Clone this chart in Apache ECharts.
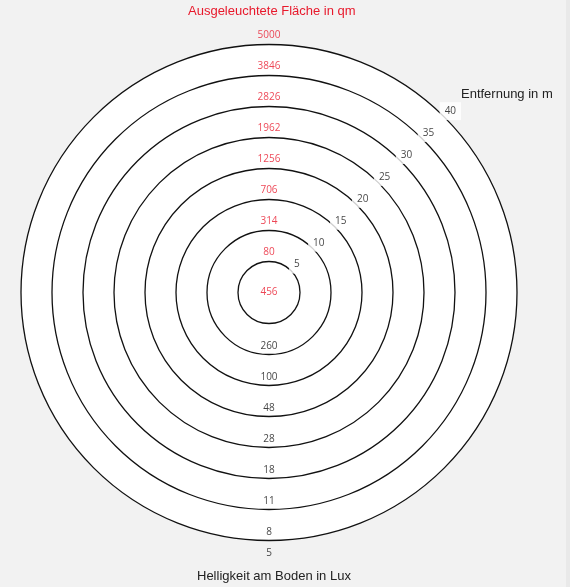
<!DOCTYPE html>
<html>
<head>
<meta charset="utf-8">
<script src="https://cdn.jsdelivr.net/npm/echarts@6/dist/echarts.min.js"></script>
<style>
  html, body { margin: 0; padding: 0; background: #f2f2f2; }
  #chart { width: 570px; height: 587px; }
</style>
</head>
<body>
<div id="chart"></div>
<script>
// Entfernung in m (one circle per value)
var distances = [5, 10, 15, 20, 25, 30, 35, 40];
// ausgeleuchtete Flaeche in qm, one per circle
var areas = [80, 314, 706, 1256, 1962, 2826, 3846, 5000];
// Helligkeit am Boden in Lux: centre, then per circle, then outside
var lux = [456, 260, 100, 48, 28, 18, 11, 8, 5];

var red = '#e8192c';
var dark = '#111';
var numFont = 'Open Sans';

var chartDom = document.getElementById('chart');
var myChart = echarts.init(chartDom);

var distanceData = distances.map(function (d) {
    return { value: [d, 45], name: String(d) };
});
var areaData = distances.map(function (d, i) {
    return { value: [d, 90], name: String(areas[i]) };
});
var luxData = [];
for (var i = 1; i < lux.length - 1; i++) {
    luxData.push({ value: [distances[i], 270], name: String(lux[i]) });
}

var option = {
    backgroundColor: '#f2f2f2',
    title: [
        {
            text: 'Ausgeleuchtete Fläche in qm',
            left: 188,
            top: 5,
            padding: 0,
            textStyle: { color: red, fontSize: 13, fontWeight: 'normal', fontFamily: 'Liberation Sans' }
        },
        {
            text: 'Entfernung in m',
            left: 461,
            top: 88,
            padding: 0,
            textStyle: { color: '#222', fontSize: 13, fontWeight: 'normal', fontFamily: 'Liberation Sans' }
        },
        {
            text: 'Helligkeit am Boden in Lux',
            left: 197,
            top: 570,
            padding: 0,
            textStyle: { color: '#222', fontSize: 13, fontWeight: 'normal', fontFamily: 'Liberation Sans' }
        }
    ],
    graphic: [
        { type: 'rect', right: 0, top: 0, shape: { width: 4, height: 587 }, style: { fill: '#e9e9e9' }, silent: true }
    ],
    polar: {
        center: [269, 292.5],
        radius: 248
    },
    angleAxis: {
        type: 'value',
        min: 0,
        max: 360,
        startAngle: 0,
        clockwise: false,
        z: 0,
        axisLine: { show: false },
        axisTick: { show: false },
        axisLabel: { show: false },
        splitLine: { show: false },
        splitArea: { show: true, areaStyle: { color: ['#ffffff'] } }
    },
    radiusAxis: {
        type: 'value',
        min: 0,
        max: 40,
        interval: 5,
        z: 1,
        axisLine: { show: false },
        axisTick: { show: false },
        axisLabel: { show: false },
        splitLine: { show: true, lineStyle: { color: dark, width: 1.3 } }
    },
    series: [
        {
            name: 'Entfernung',
            type: 'scatter',
            coordinateSystem: 'polar',
            symbolSize: 0,
            silent: true,
            z: 3,
            data: distanceData,
            label: {
                show: true,
                position: 'inside',
                offset: [6, -6],
                formatter: '{b}',
                color: dark,
                fontSize: 10,
                fontFamily: numFont,
                backgroundColor: '#fff',
                padding: [4, 5]
            }
        },
        {
            name: 'Flaeche',
            type: 'scatter',
            coordinateSystem: 'polar',
            symbolSize: 0,
            silent: true,
            z: 3,
            data: areaData,
            label: {
                show: true,
                position: 'top',
                distance: 4,
                formatter: '{b}',
                color: red,
                fontSize: 10,
                fontFamily: numFont
            }
        },
        {
            name: 'Lux',
            type: 'scatter',
            coordinateSystem: 'polar',
            symbolSize: 0,
            silent: true,
            z: 3,
            data: luxData,
            label: {
                show: true,
                position: 'top',
                distance: 3,
                formatter: '{b}',
                color: dark,
                fontSize: 10,
                fontFamily: numFont
            }
        },
        {
            name: 'LuxRand',
            type: 'scatter',
            coordinateSystem: 'polar',
            symbolSize: 0,
            silent: true,
            z: 3,
            data: [
                { value: [0, 0], name: String(lux[0]), label: { position: 'inside', color: red } },
                { value: [distances[distances.length - 1], 270], name: String(lux[lux.length - 1]), label: { position: 'bottom', distance: 8 } }
            ],
            label: {
                show: true,
                formatter: '{b}',
                color: dark,
                fontSize: 10,
                fontFamily: numFont
            }
        }
    ]
};
myChart.setOption(option);
</script>
</body>
</html>
